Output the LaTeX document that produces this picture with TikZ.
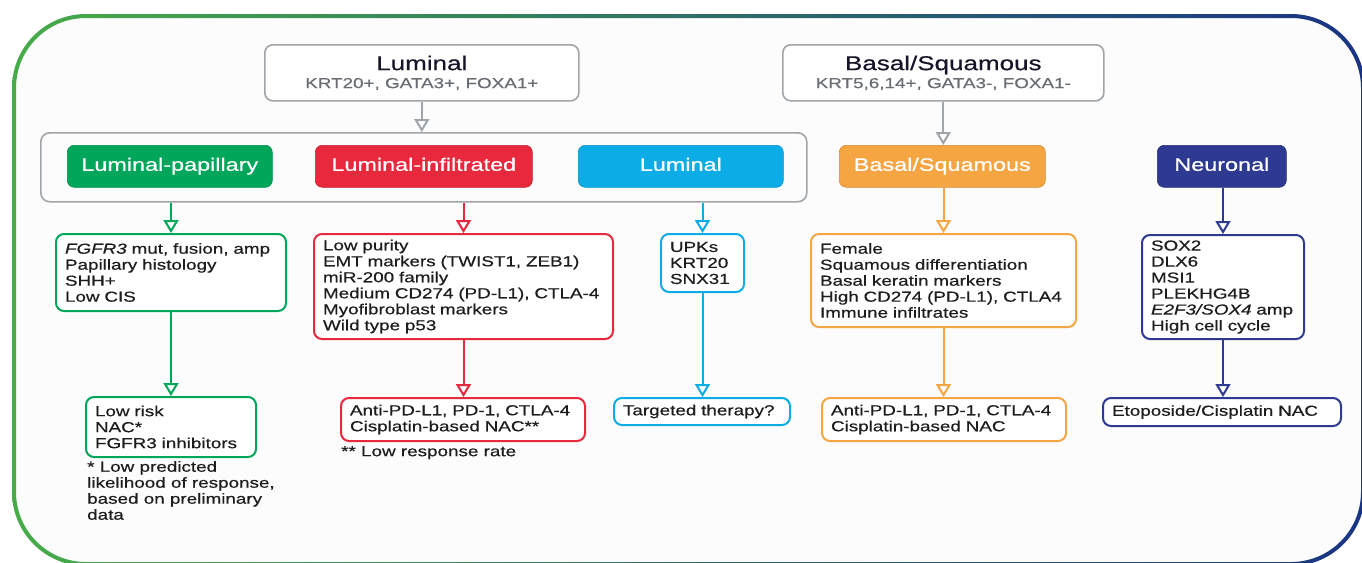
\documentclass[tikz,border=0pt]{standalone}
\usepackage{fontspec}
\setmainfont[FakeStretch=1.3, FakeBold=0.5]{Liberation Sans}
\usetikzlibrary{arrows.meta}

\definecolor{framegreen}{RGB}{70,172,72}
\definecolor{frameteal}{RGB}{38,120,104}
\definecolor{framenavy}{RGB}{26,52,132}
\definecolor{hdrgray}{RGB}{160,165,170}
\definecolor{subgray}{RGB}{105,110,116}
\definecolor{hdrtext}{RGB}{22,22,40}
\definecolor{papgreen}{RGB}{0,166,90}
\definecolor{infred}{RGB}{232,40,60}
\definecolor{lumblue}{RGB}{12,172,230}
\definecolor{basorange}{RGB}{245,166,66}
\definecolor{neunavy}{RGB}{46,58,145}
\definecolor{bodytext}{RGB}{30,28,30}

\tikzset{
	hdrbox/.style={draw=hdrgray, line width=1.6pt, rounded corners=8pt, fill=white, align=center, anchor=north west, inner sep=0pt},
	grpbox/.style={draw=hdrgray, line width=1.6pt, rounded corners=9pt, anchor=north west, inner sep=0pt},
	typebox/.style={fill=#1, draw=#1!85!black, line width=0.6pt, rounded corners=7pt, text=white, font=\fontsize{18}{20}\selectfont, text height=13pt, text depth=4pt, minimum height=42pt, anchor=north west, inner sep=0pt},
	infobox/.style={draw=#1, line width=2pt, rounded corners=8pt, fill=white, align=left, anchor=north west, inner xsep=9pt, inner ysep=0pt},
	flow/.style={draw=#1, line width=2pt, -{Triangle[length=13pt, width=15pt, fill=white]}},
	note/.style={align=left, anchor=north west, inner sep=0pt}
}

\begin{document}
\begin{tikzpicture}[x=1pt, y=-1pt, font=\fontsize{14.5}{16}\selectfont, text=bodytext]
	\useasboundingbox (0,0) rectangle (1362,562);

	% Frame
	\fill[white!99!black, rounded corners=70pt] (16,18) rectangle (1361,562);
	\shade[left color=framegreen, middle color=frameteal, right color=framenavy, even odd rule]
		[rounded corners=74pt] (12,14) rectangle (1365,566)
		[rounded corners=70pt] (16,18) rectangle (1361,562);

	% Headers
	\node[hdrbox, minimum width=314pt, minimum height=56pt] (lumhdr) at (264,44)
		{{\fontsize{20}{20}\selectfont\color{hdrtext}Luminal}\\[2pt]{\color{subgray}KRT20+, GATA3+, FOXA1+}};
	\node[hdrbox, minimum width=321pt, minimum height=56pt] (bashdr) at (782,44)
		{{\fontsize{20}{20}\selectfont\color{hdrtext}Basal/Squamous}\\[2pt]{\color{subgray}KRT5,6,14+, GATA3-, FOXA1-}};

	% Subtypes
	\node[grpbox, minimum width=766pt, minimum height=69pt] (grp) at (40,132) {};
	\node[typebox=papgreen, minimum width=205pt] (lp) at (67,145) {Luminal-papillary};
	\node[typebox=infred, minimum width=217pt] (li) at (315,145) {Luminal-infiltrated};
	\node[typebox=lumblue, minimum width=205pt] (lu) at (578,145) {Luminal};
	\node[typebox=basorange, minimum width=206pt] (bs) at (839,145) {Basal/Squamous};
	\node[typebox=neunavy, minimum width=129pt] (ne) at (1157,145) {Neuronal};

	% Markers
	\node[infobox=papgreen, text width=212pt, minimum height=77pt] (lpinfo) at (55,233)
		{\textit{FGFR3} mut, fusion, amp\\Papillary histology\\SHH+\\Low CIS};
	\node[infobox=infred, text width=281pt, minimum height=105pt] (liinfo) at (313,233)
		{Low purity\\EMT markers (TWIST1, ZEB1)\\miR-200 family\\Medium CD274 (PD-L1), CTLA-4\\Myofibroblast markers\\Wild type p53};
	\node[infobox=lumblue, text width=65pt, minimum height=58pt] (luinfo) at (660,233)
		{UPKs\\KRT20\\SNX31};
	\node[infobox=basorange, text width=247pt, minimum height=93pt] (bsinfo) at (810,233)
		{Female\\Squamous differentiation\\Basal keratin markers\\High CD274 (PD-L1), CTLA4\\Immune infiltrates};
	\node[infobox=neunavy, text width=144pt, minimum height=104pt] (neinfo) at (1141,234)
		{SOX2\\DLX6\\MSI1\\PLEKHG4B\\\textit{E2F3/SOX4} amp\\High cell cycle};

	% Treatments
	\node[infobox=papgreen, text width=152pt, minimum height=60pt] (lpres) at (85,396)
		{Low risk\\NAC*\\FGFR3 inhibitors};
	\node[infobox=infred, text width=226pt, minimum height=43pt] (lires) at (340,397)
		{Anti-PD-L1, PD-1, CTLA-4\\Cisplatin-based NAC**};
	\node[infobox=lumblue, text width=158pt, minimum height=27pt] (lures) at (613,397)
		{Targeted therapy?};
	\node[infobox=basorange, text width=226pt, minimum height=43pt] (bsres) at (821,397)
		{Anti-PD-L1, PD-1, CTLA-4\\Cisplatin-based NAC};
	\node[infobox=neunavy, text width=220pt, minimum height=28pt] (neres) at (1102,397)
		{Etoposide/Cisplatin NAC};

	% Notes
	\node[note] (lpnote) at (87,461) {* Low predicted\\likelihood of response,\\based on preliminary\\data};
	\node[note] (linote) at (341,446) {** Low response rate};

	% Arrows
	\draw[flow=hdrgray] (lumhdr.south) -- (lumhdr.south |- grp.north);
	\draw[flow=hdrgray] (bashdr.south) -- (bashdr.south |- bs.north);
	\draw[flow=papgreen] (grp.south -| lpinfo.north) -- (lpinfo.north);
	\draw[flow=infred] (grp.south -| liinfo.north) -- (liinfo.north);
	\draw[flow=lumblue] (grp.south -| luinfo.north) -- (luinfo.north);
	\draw[flow=basorange] (bs.south -| bsinfo.north) -- (bsinfo.north);
	\draw[flow=neunavy] (ne.south -| neinfo.north) -- (neinfo.north);
	\draw[flow=papgreen] (lpinfo.south) -- (lpinfo.south |- lpres.north);
	\draw[flow=infred] (liinfo.south) -- (liinfo.south |- lires.north);
	\draw[flow=lumblue] (luinfo.south) -- (luinfo.south |- lures.north);
	\draw[flow=basorange] (bsinfo.south) -- (bsinfo.south |- bsres.north);
	\draw[flow=neunavy] (neinfo.south) -- (neinfo.south |- neres.north);
\end{tikzpicture}
\end{document}
